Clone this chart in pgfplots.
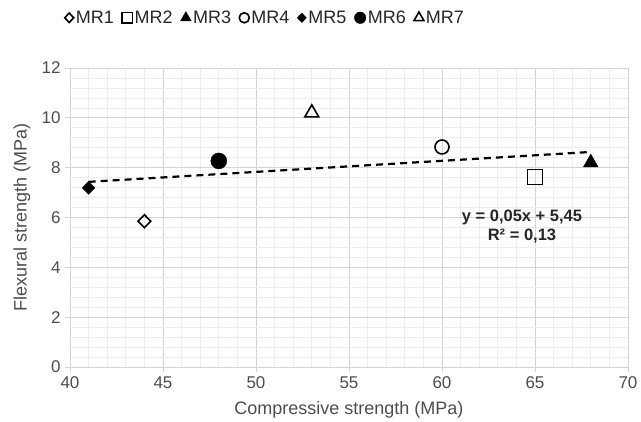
\documentclass[border=0pt]{standalone}
\usepackage{pgfplots}
\pgfplotsset{compat=1.18}
\usepackage{fontspec}
\setmainfont{Liberation Sans}
\definecolor{txt}{HTML}{4D4D4D}
\definecolor{gmaj}{HTML}{D4D4D4}
\definecolor{gmin}{HTML}{EDEDED}
\begin{document}
\begin{tikzpicture}
\begin{axis}[
  scale only axis, width=558pt, height=299pt,
  xmin=40, xmax=70, ymin=0, ymax=12,
  xtick={40,45,...,70}, ytick={0,2,...,12},
  minor x tick num=4, minor y tick num=4,
  grid=both,
  major grid style={draw=gmaj, line width=0.8pt},
  minor grid style={draw=gmin, line width=0.6pt},
  axis line style={draw=gmaj, line width=0.8pt},
  tick align=outside, major tick length=5pt, minor tick length=0pt,
  tick style={draw=gmaj, line width=0.8pt},
  xtick pos=bottom, ytick pos=left,
  /pgf/number format/assume math mode=true,
  ticklabel style={font=\fontsize{17}{20}\selectfont, text=txt},
  xticklabel style={yshift=-1pt},
  yticklabel style={xshift=-1pt},
  label style={font=\fontsize{18}{21}\selectfont, text=txt},
  xlabel={Compressive strength (MPa)},
  ylabel={Flexural strength (MPa)},
  xlabel style={at={(axis description cs:0.5,-0.144)}, anchor=center},
  ylabel style={at={(axis description cs:-0.086,0.5)}, anchor=center, rotate=0},
  legend columns=7,
  legend style={draw=none, fill=none, at={(axis description cs:0.35,1.168)}, anchor=center,
    font=\fontsize{18}{21}\selectfont, text=black!85,
    /tikz/every even column/.append style={column sep=6pt},
    inner sep=0pt},
  legend image code/.code={\draw[#1, every mark/.append style={scale=0.72}] plot coordinates {(0pt,0pt)};},
  legend cell align=left,
]
\addplot[only marks, mark=diamond, mark size=6.5pt, line width=1.6pt, mark options={xscale=1.3}] coordinates {(44,5.85)};
\addlegendentry{MR1}
\addplot[only marks, mark=square, mark size=7.5pt, line width=1.6pt] coordinates {(65,7.63)};
\addlegendentry{MR2}
\addplot[only marks, mark=triangle*, mark size=8.5pt, fill=black] coordinates {(68,8.2)};
\addlegendentry{MR3}
\addplot[only marks, mark=o, mark size=7pt, line width=1.6pt] coordinates {(60,8.83)};
\addlegendentry{MR4}
\addplot[only marks, mark=diamond*, mark size=6.5pt, fill=black, mark options={xscale=1.3}] coordinates {(41,7.19)};
\addlegendentry{MR5}
\addplot[only marks, mark=*, mark size=8pt, fill=black] coordinates {(48,8.27)};
\addlegendentry{MR6}
\addplot[only marks, mark=triangle, mark size=8pt, line width=1.6pt] coordinates {(53,10.2)};
\addlegendentry{MR7}
\addplot[black, line width=2.2pt, dash pattern=on 7pt off 5pt, forget plot] coordinates {(41,7.43) (68,8.63)};
\node[font=\bfseries\fontsize{16.5}{19}\selectfont, text=black!85, align=center] at (axis cs:64.3,5.62) {y = 0,05x + 5,45\\R² = 0,13};
\end{axis}
\pgfresetboundingbox
\path (current axis.south west) ++(-70pt,-55pt) rectangle ++(641pt,422pt);
\end{tikzpicture}
\end{document}
